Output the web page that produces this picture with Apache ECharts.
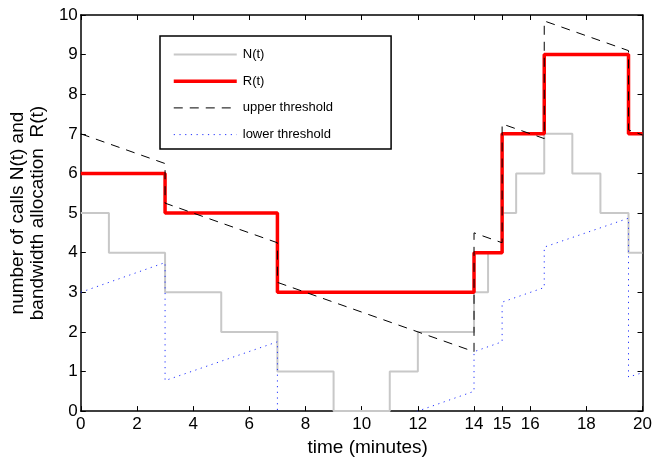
<!DOCTYPE html>
<html>
<head>
<meta charset="utf-8">
<script src="https://cdn.jsdelivr.net/npm/echarts@6/dist/echarts.min.js"></script>
<style>
html,body{margin:0;padding:0;background:#fff;}
#chart{width:655px;height:462px;}
</style>
</head>
<body>
<div id="chart"></div>
<script>
// ---- data ----
const seriesNames = ['N(t)', 'R(t)', 'upper threshold', 'lower threshold'];

const nTimes  = [0, 1, 3, 5, 7, 9, 11, 12, 14, 14.5, 15, 15.5, 16.5, 17.5, 18.5, 19.5, 20];
const nValues = [5, 4, 3, 2, 1, 0, 1, 2, 3, 4, 5, 6, 7, 6, 5, 4, 4];

const rTimes  = [0, 3, 7, 14, 15, 16.5, 19.5, 20];
const rValues = [6, 5, 3, 4, 7, 9, 7, 7];

const upperTimes  = [0, 3, 3, 7, 7, 14, 14, 15, 15, 16.5, 16.5, 19.5, 19.5, 20];
const upperValues = [7, 6.25, 5.25, 4.25, 3.25, 1.5, 4.5, 4.25, 7.25, 6.88, 9.85, 9.1, 7.1, 6.97];

const lowerTimes  = [0, 3, 3, 7, 7, 12, 14, 14, 15, 15, 16.5, 16.5, 19.5, 19.5, 20];
const lowerValues = [3, 3.75, 0.77, 1.75, -1.25, 0, 0.5, 1.5, 1.75, 2.75, 3.12, 4.14, 4.87, 0.86, 0.97];

const xTickValues = [0, 2, 4, 6, 8, 10, 12, 14, 15, 16, 18, 20];
const xLabel = 'time (minutes)';
const yLabel = 'number of calls N(t) and\nbandwidth allocation  R(t)';

// ---- build ----
function pairs(xs, ys) { return xs.map((x, i) => [x, ys[i]]); }

const FONT = 'Liberation Sans, Arial, sans-serif';
const axisLineStyle = { color: '#000', width: 1.5 };

const styles = [
  { color: '#c8c8c8', width: 2, type: 'solid' },
  { color: '#ff0000', width: 3.5, type: 'solid' },
  { color: '#000000', width: 1, type: [9, 7] },
  { color: '#2233ff', width: 1, type: [1.2, 4.5] }
];

const chart = echarts.init(document.getElementById('chart'), null, { renderer: 'canvas' });
chart.setOption({
  animation: false,
  backgroundColor: '#fff',
  textStyle: { fontFamily: FONT },
  grid: { left: 73, right: 9, top: 15, bottom: 46, containLabel: false },
  legend: {
    data: seriesNames.map((n, i) => ({
      name: n,
      lineStyle: { color: styles[i].color, width: styles[i].width, type: styles[i].type },
      itemStyle: { opacity: 0 }
    })),
    orient: 'vertical',
    left: 160, top: 36,
    padding: [12, 58, 8, 12],
    itemWidth: 63, itemHeight: 14, itemGap: 13.7,
    borderColor: '#000', borderWidth: 1.5,
    backgroundColor: '#fff',
    itemStyle: { opacity: 0 },
    textStyle: { fontFamily: FONT, fontSize: 13, color: '#000', padding: [0, 0, 0, 1] },
    selectedMode: false
  },
  xAxis: [{
    type: 'value', min: 0, max: 20, position: 'bottom',
    name: xLabel, nameLocation: 'middle', nameGap: 24,
    nameTextStyle: { fontFamily: FONT, fontSize: 19, color: '#000', padding: [0, 0, 0, 12] },
    axisLine: { show: true, onZero: false, lineStyle: axisLineStyle },
    axisTick: { show: true, inside: true, length: 5, customValues: xTickValues, lineStyle: { color: '#000', width: 1 } },
    axisLabel: { show: true, customValues: xTickValues, margin: 5, fontFamily: FONT, fontSize: 17, color: '#000' },
    splitLine: { show: false }
  }, {
    type: 'value', min: 0, max: 20, position: 'top',
    axisLine: { show: true, onZero: false, lineStyle: axisLineStyle },
    axisTick: { show: true, inside: true, length: 5, customValues: xTickValues, lineStyle: { color: '#000', width: 1 } },
    axisLabel: { show: false },
    splitLine: { show: false }
  }],
  yAxis: [{
    type: 'value', min: 0, max: 10, interval: 1, position: 'left',
    name: yLabel, nameLocation: 'middle', nameGap: 23, nameRotate: 90,
    nameTextStyle: { fontFamily: FONT, fontSize: 19, color: '#000', lineHeight: 20 },
    axisLine: { show: true, onZero: false, lineStyle: axisLineStyle },
    axisTick: { show: true, inside: true, length: 5, lineStyle: { color: '#000', width: 1 } },
    axisLabel: { show: true, margin: 3, fontFamily: FONT, fontSize: 17, color: '#000' },
    splitLine: { show: false }
  }, {
    type: 'value', min: 0, max: 10, interval: 1, position: 'right',
    axisLine: { show: true, onZero: false, lineStyle: axisLineStyle },
    axisTick: { show: true, inside: true, length: 5, lineStyle: { color: '#000', width: 1 } },
    axisLabel: { show: false },
    splitLine: { show: false }
  }],
  series: [{
    name: seriesNames[0], type: 'line', step: 'end', symbol: 'none', z: 3,
    data: pairs(nTimes, nValues),
    lineStyle: styles[0], itemStyle: { color: styles[0].color }
  }, {
    name: seriesNames[1], type: 'line', step: 'end', symbol: 'none', z: 4,
    data: pairs(rTimes, rValues),
    lineStyle: styles[1], itemStyle: { color: styles[1].color }
  }, {
    name: seriesNames[2], type: 'line', symbol: 'none', z: 5,
    data: pairs(upperTimes, upperValues),
    lineStyle: styles[2], itemStyle: { color: styles[2].color }
  }, {
    name: seriesNames[3], type: 'line', symbol: 'none', z: 5,
    data: pairs(lowerTimes, lowerValues),
    lineStyle: styles[3], itemStyle: { color: styles[3].color }
  }]
});
</script>
</body>
</html>
